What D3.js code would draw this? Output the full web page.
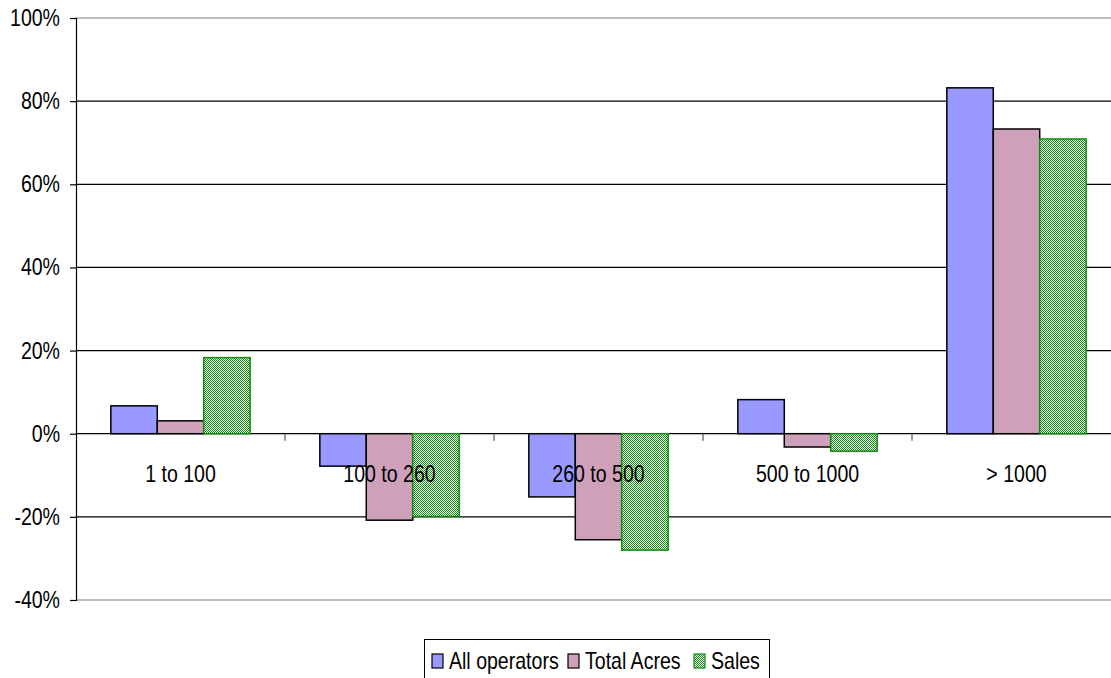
<!DOCTYPE html>
<html>
<head>
<meta charset="utf-8">
<script src="https://cdn.jsdelivr.net/npm/d3@7"></script>
<style>
  body { margin: 0; background: #fff; overflow: hidden; }
  text { font-family: "Liberation Sans", Arial, sans-serif; }
</style>
</head>
<body>
<div id="chart"></div>
<script>
// Data
const categories = ['1 to 100', '100 to 260', '260 to 500', '500 to 1000', '> 1000'];
const seriesNames = ['All operators', 'Total Acres', 'Sales'];
const allOperators = [6.7, -7.8, -15.2, 8.2, 83.2];
const totalAcres = [3.1, -20.8, -25.5, -3.2, 73.3];
const sales = [18.3, -19.9, -28.0, -4.2, 70.9];
const yTicks = [-40, -20, 0, 20, 40, 60, 80, 100];

const values = [allOperators, totalAcres, sales];

const width = 1111;
const height = 678;
const plotLeft = 76;
const plotRight = 1121; // plot area runs past the right edge
const margin = { top: 18, bottom: 78 };
const squeeze = 0.85; // narrow look of the original font

const svg = d3.select('#chart')
  .append('svg')
  .attr('width', width)
  .attr('height', height);

// green checker pattern for Sales
const defs = svg.append('defs');
const pat = defs.append('pattern')
  .attr('id', 'checker')
  .attr('width', 2)
  .attr('height', 2)
  .attr('patternUnits', 'userSpaceOnUse');
pat.append('rect').attr('width', 2).attr('height', 2).attr('fill', '#fff');
pat.append('rect').attr('width', 1).attr('height', 1).attr('fill', '#138a13');
pat.append('rect').attr('x', 1).attr('y', 1).attr('width', 1).attr('height', 1).attr('fill', '#138a13');

const fills = ['#9999ff', '#cfa0ba', 'url(#checker)'];
const strokes = ['#000', '#000', '#108c10'];

const x0 = d3.scaleBand()
  .domain(categories)
  .range([plotLeft, plotRight])
  .paddingInner(0)
  .paddingOuter(0);

const x1 = d3.scaleBand()
  .domain(seriesNames)
  .range([0, x0.bandwidth()])
  .paddingOuter(0.75)
  .paddingInner(0);

const y = d3.scaleLinear()
  .domain([-40, 100])
  .range([height - margin.bottom, margin.top]);

// condensed text helper
function label(parent, x, yy, txt, anchor) {
  parent.append('text')
    .attr('transform', `translate(${x},${yy}) scale(${squeeze},1)`)
    .attr('text-anchor', anchor)
    .attr('font-size', 23)
    .attr('fill', '#000')
    .text(txt);
}

// gridlines
svg.append('g')
  .selectAll('line')
  .data(yTicks)
  .enter()
  .append('line')
  .attr('x1', plotLeft)
  .attr('x2', plotRight)
  .attr('y1', d => y(d))
  .attr('y2', d => y(d))
  .attr('stroke', d => (d === 100 || d === -40) ? '#808080' : '#000')
  .attr('stroke-width', 1.2);

// y axis
const yAxis = svg.append('g')
  .attr('transform', `translate(${plotLeft},0)`)
  .call(d3.axisLeft(y).tickValues(yTicks).tickSize(6).tickFormat(''));
yAxis.select('.domain').attr('stroke', '#000').attr('stroke-width', 1.2);
yAxis.selectAll('.tick line').attr('stroke', '#000').attr('stroke-width', 1.2);

const yLabels = svg.append('g');
yTicks.forEach(t => label(yLabels, 60, y(t) + 8, t + '%', 'end'));

// bars
const groups = svg.append('g')
  .selectAll('g')
  .data(seriesNames)
  .enter()
  .append('g');

groups.each(function (name, si) {
  d3.select(this).selectAll('rect')
    .data(values[si])
    .enter()
    .append('rect')
    .attr('x', (d, i) => x0(categories[i]) + x1(name))
    .attr('y', d => y(Math.max(0, d)))
    .attr('width', x1.bandwidth())
    .attr('height', d => Math.abs(y(d) - y(0)))
    .attr('fill', fills[si])
    .attr('stroke', strokes[si])
    .attr('stroke-width', 1.5);
});

// category ticks below zero line
svg.append('g')
  .selectAll('line')
  .data(categories.slice(1))
  .enter()
  .append('line')
  .attr('x1', d => x0(d))
  .attr('x2', d => x0(d))
  .attr('y1', y(0))
  .attr('y2', y(0) + 7)
  .attr('stroke', '#555')
  .attr('stroke-width', 1.2);

// category labels
const catLabels = svg.append('g');
categories.forEach(c => label(catLabels, x0(c) + x0.bandwidth() / 2, y(0) + 48, c, 'middle'));

// legend
const legend = svg.append('g');
legend.append('rect')
  .attr('x', 424.5)
  .attr('y', 639.5)
  .attr('width', 345)
  .attr('height', 45)
  .attr('fill', '#fff')
  .attr('stroke', '#000')
  .attr('stroke-width', 1);

const legendX = [432, 568, 694];
seriesNames.forEach((name, i) => {
  legend.append('rect')
    .attr('x', legendX[i])
    .attr('y', 654)
    .attr('width', 11)
    .attr('height', 14)
    .attr('fill', fills[i])
    .attr('stroke', strokes[i])
    .attr('stroke-width', 1.2);
  label(legend, legendX[i] + 17, 669, name, 'start');
});
</script>
</body>
</html>
